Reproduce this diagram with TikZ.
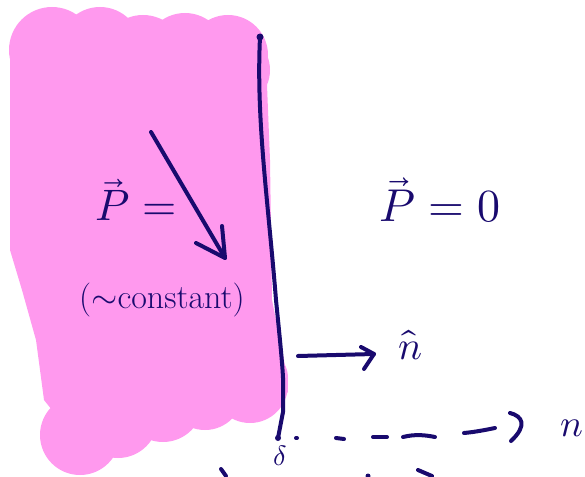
\documentclass[tikz,border=0pt]{standalone}
\usepackage{unicode-math}
\setmainfont{Latin Modern Roman}
\setmathfont{Latin Modern Math}
\definecolor{blob}{RGB}{255,153,238}
\definecolor{ink}{RGB}{25,10,110}
\begin{document}
\begin{tikzpicture}[x=1pt,y=-1pt,
  pen/.style={draw=ink,line width=4pt,line cap=round,line join=round},
  lab/.style={text=ink,inner sep=0pt}]
\useasboundingbox (0,0) rectangle (585,476);
% pink blob
\fill[blob] (10,60) -- (266,60) -- (270,160) -- (272,300) -- (284,360) -- (288,392) -- (262,412) -- (60,420) -- (44,400) -- (36,340) -- (22,290) -- (10,250) -- cycle;
\foreach \cx/\cy/\r in {52/50/43, 100/48/41, 143/57/42, 185/54/41, 228/55/40, 232/70/38,
  80/435/40, 118/418/40, 163/402/40, 205/392/38, 250/385/38, 258/378/30}
  \fill[blob] (\cx,\cy) circle (\r);
% boundary
\coordinate (b0) at (260,37);
\coordinate (b1) at (283,395);
\coordinate (b2) at (278,438);
\draw[pen] (b0) .. controls (256,120) and (268,200) .. (276,300) .. controls (282,360) and (284,380) .. (b1) -- (283,412) -- (b2);
\fill[ink] (b0) circle (3.5);
\fill[ink] (b2) circle (3);
% P arrow
\coordinate (pa) at (151,132);
\coordinate (pb) at (225,258);
\draw[pen] (pa) -- (pb);
\draw[pen] (222,226) -- (pb) -- (196,243);
\node[lab,font=\fontsize{44}{46}\selectfont] (pleft) at (136,200) {$\vec{P}=$};
\node[lab,font=\fontsize{34}{36}\selectfont] (const) at (162,300) {(${\sim}$constant)};
\node[lab,font=\fontsize{46}{48}\selectfont] (pright) at (440,200) {$\vec{P}=0$};
% n-hat arrow
\coordinate (na) at (298,356);
\coordinate (nb) at (374,354);
\draw[pen] (na) -- (nb);
\draw[pen] (361,347) -- (nb) -- (364,369);
\node[lab,font=\fontsize{40}{42}\selectfont] (nhat) at (410,345) {$\hat{n}$};
% dashed n-axis
\draw[pen] (296,438) -- (297,438);
\draw[pen] (336,438) -- (344,439);
\draw[pen] (373,437) -- (387,437);
\draw[pen] (403,437) .. controls (415,434) and (425,435) .. (435,437);
\draw[pen] (464,433) .. controls (475,432) and (485,430) .. (495,428);
\draw[pen] (510,413) .. controls (522,416) and (528,425) .. (511,441);
\node[lab,font=\fontsize{38}{40}\selectfont,anchor=west] (naxis) at (560,428) {$n$};
\node[lab,font=\fontsize{28}{30}\selectfont] (orig) at (280,456) {$\delta$};
% cut-off strokes at bottom
\draw[pen] (221,469) -- (226,476);
\fill[ink] (368,476) circle (2.5);
\draw[pen] (418,470) -- (432,476);
\end{tikzpicture}
\end{document}
